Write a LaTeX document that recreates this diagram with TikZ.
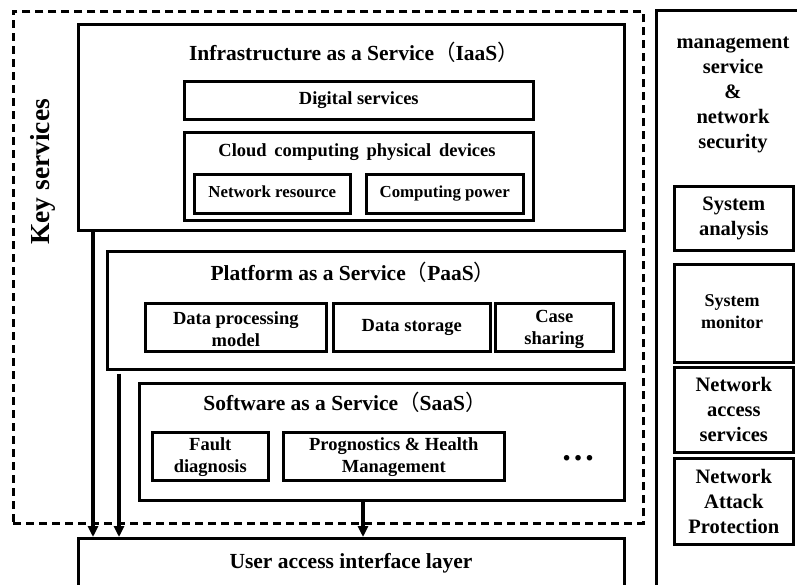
\documentclass[tikz,border=0pt]{standalone}
\usepackage{fontspec}
\setmainfont{Liberation Serif}
\newfontfamily\cjk{Noto Sans CJK SC}
\usetikzlibrary{arrows.meta}
\newcommand\fp[1]{{\cjk\mdseries #1}}
\begin{document}
\begin{tikzpicture}[x=1pt,y=-1pt,
  box/.style={draw,line width=2.6pt,inner sep=0pt,anchor=north west},
  dbox/.style={box,dash pattern=on 8pt off 5pt},
  mbase/.style={align=center,inner sep=0pt},
  ttl/.style={mbase,text height=14.6pt,text depth=4.3pt,font=\bfseries\fontsize{21.5}{25}\selectfont},
  txt/.style={mbase,text height=12.6pt,text depth=3.7pt,font=\bfseries\fontsize{18.5}{22}\selectfont},
  mltxt/.style={mbase,font=\bfseries\fontsize{18.5}{22}\selectfont},
  stxt/.style={mbase,text height=11.4pt,text depth=3.4pt,font=\bfseries\fontsize{16.8}{20}\selectfont},
  rtxt/.style={mbase,font=\bfseries\fontsize{20.5}{25}\selectfont},
  mtxt/.style={mbase,font=\bfseries\fontsize{18}{22}\selectfont},
  conn/.style={line width=3.5pt,-{Triangle[length=11pt,width=10pt]}}]
\clip (0,0) rectangle (797,584);
\fill[white] (0,0) rectangle (797,584);
\newcommand\mybox[6][box]{\node[#1,minimum width=#5pt,minimum height=#6pt] (#2) at (#3,#4) {};}
% outer frames
\mybox[dbox]{keysvc}{12}{10}{630}{512}
\mybox{mgmt}{655}{9}{160}{600}
% IaaS
\mybox{iaas}{77}{23}{546}{206}
\mybox{digi}{183}{80}{349}{38}
\mybox{cloud}{183}{131}{349}{88}
\mybox{netres}{193}{173}{156}{39}
\mybox{comp}{365}{173}{157}{39}
% PaaS
\mybox{paas}{106}{250}{517}{118}
\mybox{dpm}{144}{302}{181}{48}
\mybox{dstore}{332}{302}{157}{48}
\mybox{case}{494}{302}{118}{48}
% SaaS
\mybox{saas}{138}{382}{485}{117}
\mybox{fault}{151}{431}{116}{48}
\mybox{phm}{282}{431}{221}{48}
% user layer
\mybox{user}{77}{537}{546}{80}
% right column
\mybox{sa}{673}{185}{119}{64}
\mybox{sm}{673}{263}{119}{98}
\mybox{nas}{673}{366}{119}{85}
\mybox{nap}{673}{457}{119}{86}
% texts
\node[font=\bfseries\fontsize{27.5}{30}\selectfont,rotate=90,inner sep=0pt] (keyt) at (43,172) {Key services};
\node[ttl] (iaast) at (354,55) {Infrastructure as a Service\fp{（}IaaS\fp{）}};
\node[txt] (digit) at (digi.center) {Digital services};
\node[txt] (cloudt) at (357,152) {{\spaceskip=0.42em Cloud computing physical devices}};
\node[stxt] (netrest) at (netres.center) {Network resource};
\node[stxt] (compt) at (comp.center) {Computing power};
\node[ttl] (paast) at (353,275) {Platform as a Service\fp{（}PaaS\fp{）}};
\node[mltxt] (dpmt) at ([yshift=-2pt]dpm.center) {Data processing\\model};
\node[txt] (dstoret) at (dstore.center) {Data storage};
\node[mltxt] (caset) at ([yshift=-2pt]case.center) {Case\\sharing};
\node[ttl] (saast) at (345,405) {Software as a Service\fp{（}SaaS\fp{）}};
\node[mltxt] (faultt) at ([yshift=-1pt]fault.center) {Fault\\diagnosis};
\node[mltxt] (phmt) at ([yshift=-1pt]phm.center) {Prognostics \& Health\\Management};
\node[font=\bfseries\fontsize{34}{34}\selectfont,inner sep=0pt] (dots) at (578,458) {…};
\node[ttl] (usert) at (351,563) {User access interface layer};
\node[rtxt] (mgmtt) at (733,95) {management\\service\\\&\\network\\security};
\node[rtxt] (sat) at (sa.center) {System\\analysis};
\node[mtxt] (smt) at (732,312) {System\\monitor};
\node[rtxt] (nast) at (nas.center) {Network\\access\\services};
\node[rtxt] (napt) at (nap.center) {Network\\Attack\\Protection};
% arrows
\coordinate (a1) at ([xshift=16pt]iaas.south west);
\coordinate (a2) at ([xshift=13pt,yshift=-3pt]paas.south west);
\coordinate (a3) at ([xshift=225pt]saas.south west);
\draw[conn] (a1) -- (a1 |- user.north);
\draw[conn] (a2) -- (a2 |- user.north);
\draw[conn] (a3) -- (a3 |- user.north);
\end{tikzpicture}
\end{document}
